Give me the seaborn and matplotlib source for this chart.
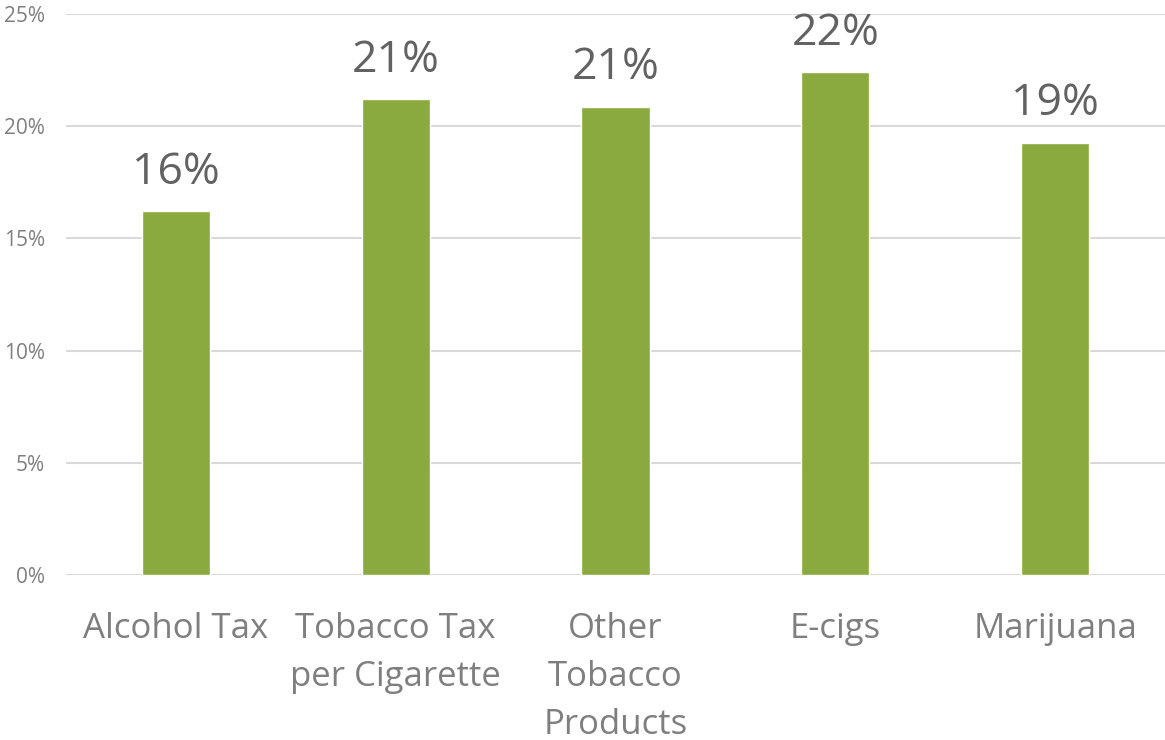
import matplotlib

matplotlib.use("Agg")
import matplotlib.pyplot as plt
import pandas as pd
import seaborn as sns
from matplotlib.ticker import FuncFormatter, MultipleLocator

categories = [
    "Alcohol Tax",
    "Tobacco Tax\nper Cigarette",
    "Other\nTobacco\nProducts",
    "E-cigs",
    "Marijuana",
]
pct_values = [16.2, 21.2, 20.85, 22.4, 19.25]

BAR_COLOR = "#8AAA3F"
TEXT_GRAY = "#7F7F7F"
LABEL_GRAY = "#626262"
GRID_GRAY = "#D9D9D9"

sns.set_theme(style="white")
plt.rcParams["font.family"] = ["Open Sans", "DejaVu Sans"]

df = pd.DataFrame({"category": categories, "value": pct_values})

fig = plt.figure(figsize=(11.65, 7.40), dpi=100)
ax = fig.add_axes([66 / 1165, 1 - 575 / 740, 1 - 66 / 1165, (575 - 14) / 740])

sns.barplot(data=df, x="category", y="value", color=BAR_COLOR, width=0.31,
            saturation=1, ax=ax, zorder=3)

ax.bar_label(ax.containers[0], labels=[f"{v:.0f}%" for v in pct_values],
             padding=12, fontsize=32, color=LABEL_GRAY)

ax.set_ylim(0, 25)
ax.set_xlim(-0.5, len(categories) - 0.5)
ax.yaxis.set_major_locator(MultipleLocator(5))
ax.yaxis.set_major_formatter(FuncFormatter(lambda v, _: f"{v:.0f}%"))
ax.grid(True, axis="y", color=GRID_GRAY, linewidth=1.5, zorder=0)
ax.set_axisbelow(True)

for spine in ax.spines.values():
    spine.set_visible(False)

ax.set_xlabel("")
ax.set_ylabel("")
ax.tick_params(axis="y", length=0, pad=15, labelsize=15, labelcolor=TEXT_GRAY)
ax.tick_params(axis="x", length=0, pad=27, labelsize=25, labelcolor=TEXT_GRAY)
for lbl in ax.get_xticklabels():
    lbl.set_linespacing(1.52)

fig.savefig("out.png", dpi=100)
plt.close(fig)
